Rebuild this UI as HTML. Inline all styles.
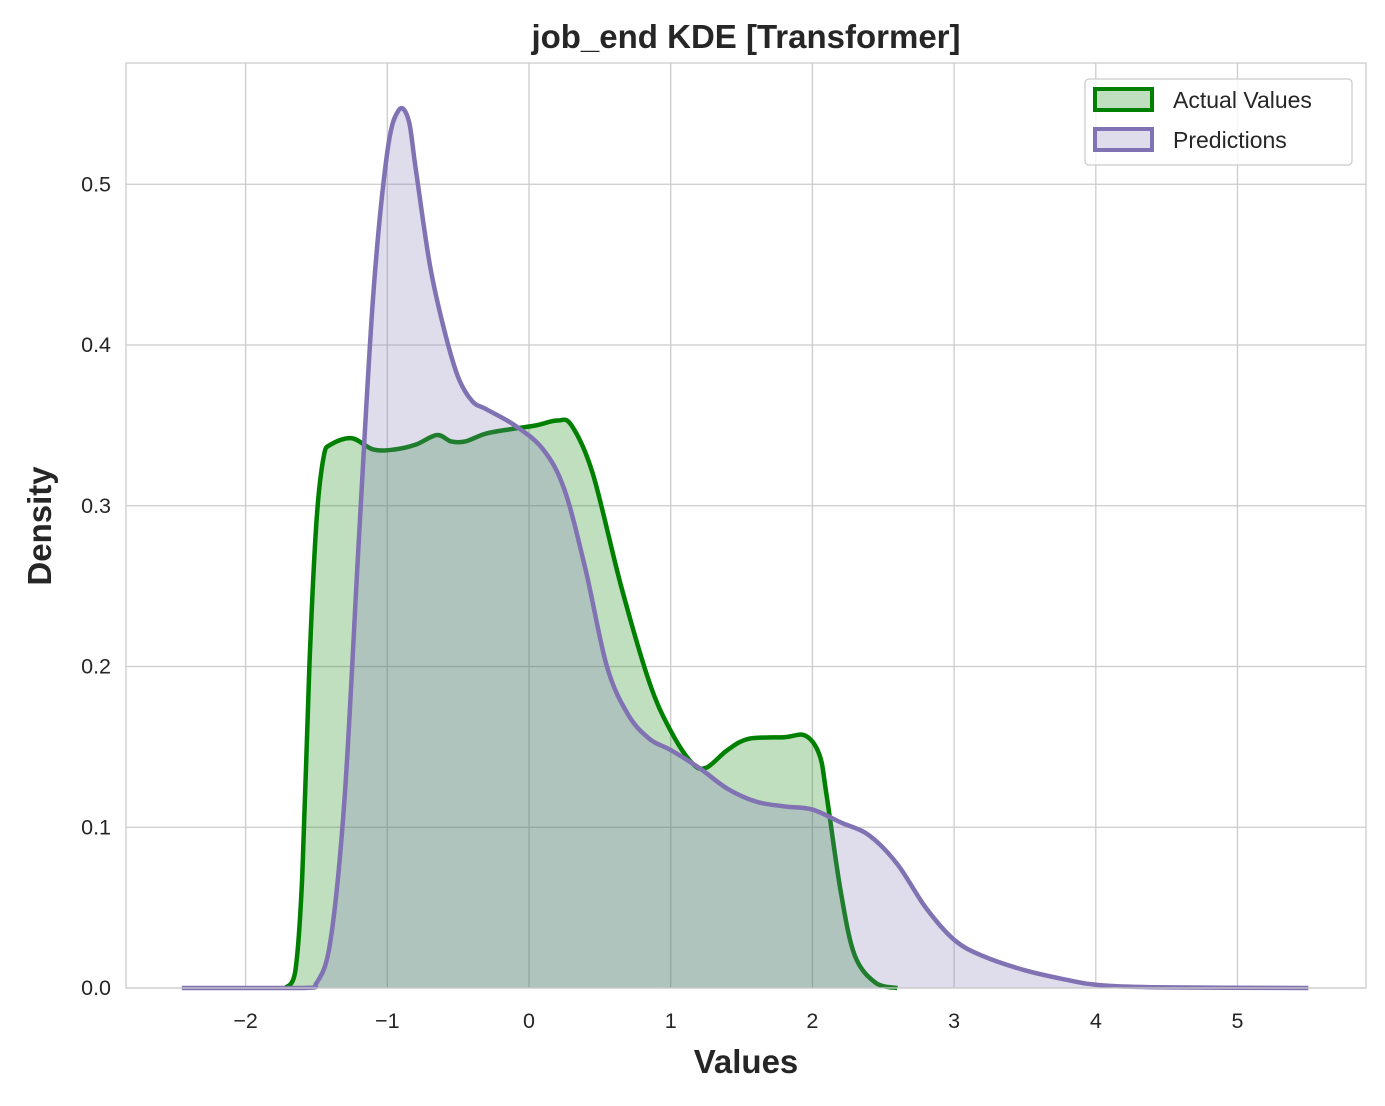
<!DOCTYPE html>
<html><head><meta charset="utf-8"><style>
body{margin:0;background:#fff;font-family:"Liberation Sans",Arial,sans-serif}
</style></head><body>
<svg width="1385" height="1101" xmlns="http://www.w3.org/2000/svg">
<g id="grid"></g>
<g id="marks"></g>
<rect x="126" y="63" width="1240" height="925" fill="none" stroke="#ccc" stroke-width="1.3"/>
<g id="ticks" font-size="21.5" fill="#262626"></g>
<text x="746" y="48" text-anchor="middle" font-size="33" font-weight="bold" fill="#262626">job_end KDE [Transformer]</text>
<text x="746" y="1073" text-anchor="middle" font-size="33" font-weight="bold" fill="#262626">Values</text>
<text transform="translate(51,526) rotate(-90)" text-anchor="middle" font-size="33" font-weight="bold" fill="#262626">Density</text>
<g>
<rect x="1085" y="79" width="267" height="86" rx="4" fill="#fff" fill-opacity="0.8" stroke="#ccc" stroke-width="1.3"/>
<rect x="1095" y="89" width="57" height="21" fill="rgba(0,128,0,0.25)" stroke="#008000" stroke-width="4"/>
<text x="1173" y="108" font-size="23" fill="#262626">Actual Values</text>
<rect x="1095" y="129" width="57" height="21" fill="rgba(129,114,179,0.25)" stroke="#8172b3" stroke-width="4"/>
<text x="1173" y="148" font-size="23" fill="#262626">Predictions</text>
</g>
</svg>
<script>
const xTicks=[-2,-1,0,1,2,3,4,5];
const yTicks=[0,0.1,0.2,0.3,0.4,0.5];
const actualX=[-1.72,-1.65,-1.6,-1.55,-1.5,-1.45,-1.4,-1.25,-1.1,-0.95,-0.8,-0.65,-0.55,-0.45,-0.3,-0.1,0.05,0.2,0.3,0.45,0.65,0.85,1.0,1.15,1.25,1.4,1.55,1.8,1.95,2.05,2.1,2.2,2.3,2.45,2.6];
const actualY=[0,0.01,0.07,0.2,0.29,0.33,0.338,0.342,0.335,0.335,0.338,0.344,0.34,0.34,0.345,0.348,0.35,0.353,0.35,0.32,0.25,0.19,0.16,0.14,0.137,0.148,0.155,0.156,0.157,0.145,0.12,0.06,0.02,0.003,0];
const predX=[-2.45,-1.6,-1.5,-1.4,-1.3,-1.2,-1.1,-1.0,-0.92,-0.85,-0.8,-0.7,-0.6,-0.5,-0.4,-0.3,-0.1,0.1,0.25,0.4,0.55,0.7,0.85,1.0,1.2,1.4,1.6,1.8,2.0,2.2,2.4,2.6,2.8,3.0,3.2,3.5,3.8,4.0,4.4,5.5];
const predY=[0,0,0.003,0.03,0.12,0.28,0.43,0.52,0.546,0.54,0.51,0.45,0.41,0.38,0.365,0.36,0.35,0.335,0.31,0.26,0.2,0.17,0.155,0.148,0.137,0.124,0.116,0.113,0.111,0.103,0.095,0.077,0.05,0.03,0.02,0.011,0.005,0.002,0.0005,0];
const NS="http://www.w3.org/2000/svg";
const X=v=>529+v*141.7, Y=v=>988-v*1607.5;
const grid=document.getElementById('grid'),ticks=document.getElementById('ticks'),marks=document.getElementById('marks');
function mk(t,a,p){const e=document.createElementNS(NS,t);for(const k in a)e.setAttribute(k,a[k]);p.appendChild(e);return e;}
xTicks.forEach(v=>{const l=mk('line',{x1:X(v),x2:X(v),y1:63,y2:988,stroke:'#ccc','stroke-width':1.3},grid);


const t=mk('text',{x:X(v),y:1028,'text-anchor':'middle'},ticks);t.textContent=v<0?'\u2212'+(-v):v;

});
yTicks.forEach(v=>{const l=mk('line',{x1:126,x2:1366,y1:Y(v),y2:Y(v),stroke:'#ccc','stroke-width':1.3},grid);


const t=mk('text',{x:111,y:Y(v)+7,'text-anchor':'end'},ticks);t.textContent=v.toFixed(1);

});
function path(xs,ys){const p=xs.map((x,i)=>[X(x),Y(ys[i])]);let d='M'+p[0][0]+','+p[0][1];
for(let i=0;i<p.length-1;i++){const p0=p[Math.max(0,i-1)],p1=p[i],p2=p[i+1],p3=p[Math.min(p.length-1,i+2)];
const c1=[p1[0]+(p2[0]-p0[0])/6,p1[1]+(p2[1]-p0[1])/6],c2=[p2[0]-(p3[0]-p1[0])/6,p2[1]-(p3[1]-p1[1])/6];
c1[1]=Math.min(c1[1],988);c2[1]=Math.min(c2[1],988);
d+=` C${c1[0]},${c1[1]} ${c2[0]},${c2[1]} ${p2[0]},${p2[1]}`;}return d;}
function series(xs,ys,col,fill,name){const d=path(xs,ys);
const f=mk('path',{d:d+` L${X(xs[xs.length-1])},988 L${X(xs[0])},988 Z`,fill:fill},marks);


const l=mk('path',{d:d,fill:'none',stroke:col,'stroke-width':4.5,'stroke-linejoin':'round'},marks);

}
series(actualX,actualY,'#008000','rgba(0,128,0,0.25)','actual-values');
series(predX,predY,'#8172b3','rgba(129,114,179,0.25)','predictions');
</script>
</body></html>
